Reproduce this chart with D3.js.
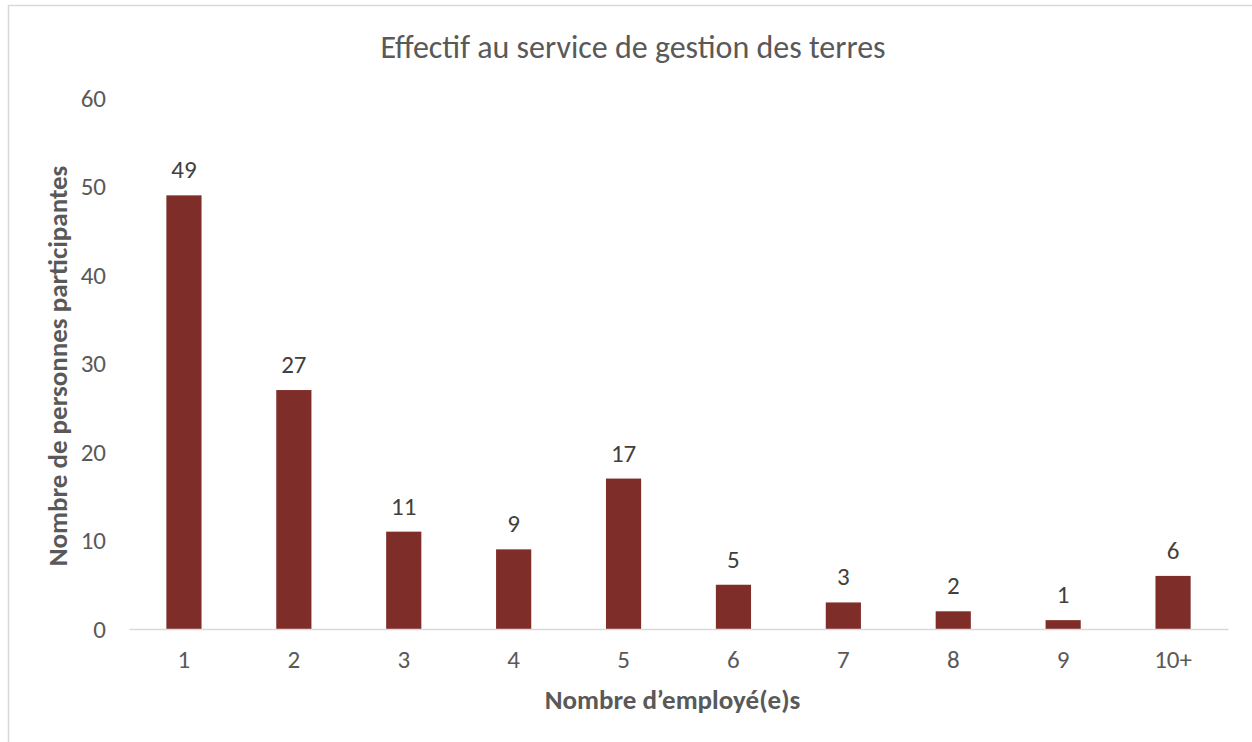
<!DOCTYPE html>
<html>
<head>
<meta charset="utf-8">
<script src="https://cdn.jsdelivr.net/npm/d3@7"></script>
<style>
  body { margin: 0; background: #fff; }
  text { font-family: Carlito, Calibri, Lato, sans-serif; }
</style>
</head>
<body>
<div id="chart"></div>
<script>
// Data
var categories = ["1", "2", "3", "4", "5", "6", "7", "8", "9", "10+"];
var values = [49, 27, 11, 9, 17, 5, 3, 2, 1, 6];
var yTicks = [0, 10, 20, 30, 40, 50, 60];

var svgWidth = 1252;
var svgHeight = 742;

var margin = { top: 98, right: 24, bottom: 113, left: 129 };
var width = svgWidth - margin.left - margin.right;
var height = svgHeight - margin.top - margin.bottom;

var svg = d3.select("#chart")
  .append("svg")
  .attr("width", svgWidth)
  .attr("height", svgHeight);

// chart border (runs off the right and bottom edges)
svg.append("rect")
  .attr("x", 8.5)
  .attr("y", 5.5)
  .attr("width", 1300)
  .attr("height", 800)
  .attr("fill", "none")
  .attr("stroke", "#d9d9d9")
  .attr("stroke-width", 1.5);

var chartGroup = svg.append("g")
  .attr("transform", `translate(${margin.left}, ${margin.top})`);

// Scales
var xScale = d3.scaleBand()
  .domain(categories)
  .range([0, width])
  .paddingInner(0.68)
  .paddingOuter(0.34);

var yScale = d3.scaleLinear()
  .domain([0, 60])
  .range([height, 0]);

// Y axis (labels only)
var leftAxis = d3.axisLeft(yScale)
  .tickValues(yTicks)
  .tickSize(0)
  .tickPadding(23);

chartGroup.append("g")
  .call(leftAxis)
  .call(g => g.select(".domain").remove())
  .selectAll("text")
  .attr("fill", "#595959")
  .style("font-size", "25px");

// Bars
chartGroup.selectAll("rect.bar")
  .data(values)
  .enter()
  .append("rect")
  .attr("class", "bar")
  .attr("x", (d, i) => xScale(categories[i]))
  .attr("y", d => yScale(d))
  .attr("width", xScale.bandwidth())
  .attr("height", d => height - yScale(d))
  .attr("fill", "#7f2d28");

// X axis
var bottomAxis = d3.axisBottom(xScale)
  .tickSize(0)
  .tickPadding(21);

chartGroup.append("g")
  .attr("transform", `translate(0, ${height})`)
  .call(bottomAxis)
  .call(g => g.select(".domain")
    .attr("stroke", "#d9d9d9")
    .attr("stroke-width", 1.5))
  .selectAll("text")
  .attr("fill", "#595959")
  .style("font-size", "25px");

// Data labels
chartGroup.selectAll("text.lbl")
  .data(values)
  .enter()
  .append("text")
  .attr("class", "lbl")
  .attr("x", (d, i) => xScale(categories[i]) + xScale.bandwidth() / 2)
  .attr("y", d => yScale(d) - 17)
  .attr("text-anchor", "middle")
  .attr("fill", "#404040")
  .style("font-size", "25px")
  .text(d => d);

// Title
svg.append("text")
  .attr("x", 633)
  .attr("y", 58)
  .attr("text-anchor", "middle")
  .attr("fill", "#595959")
  .style("font-size", "32px")
  .text("Effectif au service de gestion des terres");

// Axis titles
svg.append("text")
  .attr("x", margin.left + width / 2 - 6)
  .attr("y", 709)
  .attr("text-anchor", "middle")
  .attr("fill", "#595959")
  .style("font-size", "27px")
  .style("font-weight", "bold")
  .text("Nombre d’employé(e)s");

svg.append("text")
  .attr("transform", "translate(67, 366) rotate(-90)")
  .attr("text-anchor", "middle")
  .attr("fill", "#595959")
  .style("font-size", "27px")
  .style("font-weight", "bold")
  .text("Nombre de personnes participantes");
</script>
</body>
</html>
